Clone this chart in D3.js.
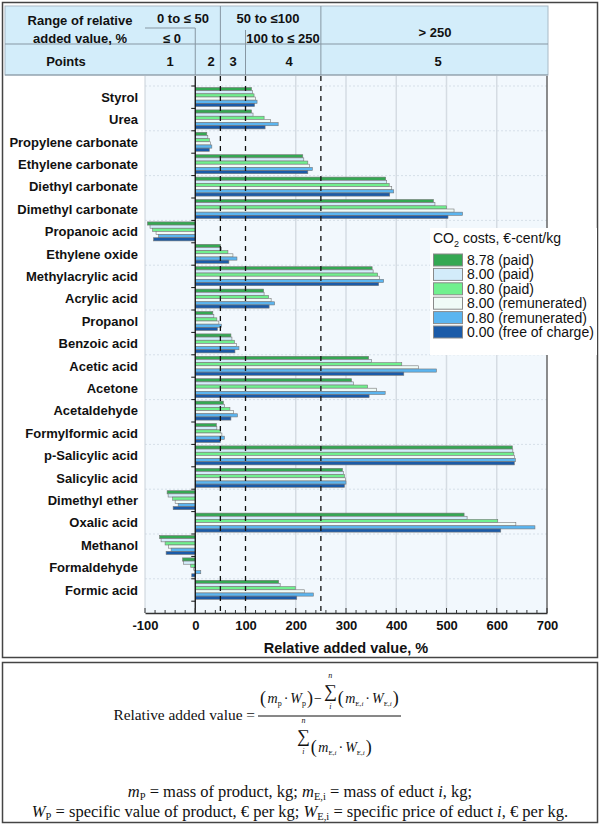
<!DOCTYPE html>
<html><head><meta charset="utf-8">
<script src="https://cdn.jsdelivr.net/npm/d3@7"></script>
<style>body{margin:0;background:#fff} svg{display:block}</style>
</head><body><svg id="c" width="600" height="828"></svg>
<script>
const categories = ["Styrol","Urea","Propylene carbonate","Ethylene carbonate","Diethyl carbonate","Dimethyl carbonate","Propanoic acid","Ethylene oxide","Methylacrylic acid","Acrylic acid","Propanol","Benzoic acid","Acetic acid","Acetone","Acetaldehyde","Formylformic acid","p-Salicylic acid","Salicylic acid","Dimethyl ether","Oxalic acid","Methanol","Formaldehyde","Formic acid"];
const seriesNames = ["8.78 (paid)","8.00 (paid)","0.80 (paid)","8.00 (remunerated)","0.80 (remunerated)","0.00 (free of charge)"];
const paid878 = [112,112,23,214,379,474,-95,50,352,136,35,71,345,311,56,42,631,293,-56,535,-71,-25,166];
const paid800 = [114,115,25,216,381,477,-90,52,354,137,37,73,351,315,58,43,632,295,-54,541,-68,-23,169];
const paid080 = [117,137,28,224,386,500,-85,65,363,146,43,78,411,343,69,50,634,297,-45,602,-60,-9,199];
const rem800  = [120,150,30,227,391,515,-78,75,367,151,47,82,444,361,76,53,635,299,-40,638,-53,-3,217];
const rem080  = [123,165,33,233,395,532,-73,83,375,158,52,87,480,378,84,58,637,300,-34,676,-48,11,235];
const free000 = [118,139,28,224,387,503,-83,67,365,147,44,79,415,346,71,50,635,297,-44,608,-58,-7,202];
const seriesValues = [paid878, paid800, paid080, rem800, rem080, free000];
const seriesColors = ["#35a853","#d3ecfa","#70f08e","#f0fbf7","#5bb5f0","#1b5ba8"];
const xTicks = [-100,0,100,200,300,400,500,600,700];
const gridValues = [200,300,400,500,600];
const thresholdValues = [50,100,250];

const svg = d3.select("#c");
const SANS = "'Liberation Sans', Arial, sans-serif";
const SERIF = "'Liberation Serif', 'Times New Roman', serif";

// panels
svg.append("rect").attr("x",2.5).attr("y",2.5).attr("width",595).attr("height",655)
  .attr("fill","#fff").attr("stroke","#444").attr("stroke-width",1.5);
svg.append("rect").attr("x",2.5).attr("y",662.5).attr("width",595).attr("height",160)
  .attr("fill","#fff").attr("stroke","#444").attr("stroke-width",1.5);

const x = d3.scaleLinear().domain([-100,700]).range([145,547]);
const y = d3.scaleBand().domain(categories).range([86, 86+23*22.4]).padding(0);
const yi = d3.scaleBand().domain(seriesNames).range([1.5,20.5]).padding(0);
const plotTop = 76, plotBot = 613;

// plot background
svg.append("rect").attr("x",x(-100)).attr("y",plotTop).attr("width",x(700)-x(-100)).attr("height",plotBot-plotTop)
  .attr("fill","#f2f8fd");

// horizontal dotted grid
const bounds = d3.range(0,24).map(k => y.range()[0] + k*y.step());
svg.append("g").selectAll("line").data(bounds.filter((d,i)=>i%2===0)).join("line")
  .attr("x1",x(-100)).attr("x2",x(700)).attr("y1",d=>d).attr("y2",d=>d)
  .attr("stroke","#d6dfe8").attr("stroke-width",1).attr("stroke-dasharray","2,2");

// vertical grid
svg.append("g").selectAll("line").data(gridValues).join("line")
  .attr("x1",d=>x(d)).attr("x2",d=>x(d)).attr("y1",plotTop).attr("y2",plotBot)
  .attr("stroke","#d5dce3").attr("stroke-width",1.5);

// bars
const gb = svg.append("g");
seriesValues.forEach((vals,si)=>{
  gb.append("g").selectAll("rect").data(vals).join("rect")
    .attr("x",d=>x(Math.min(0,d)))
    .attr("width",d=>Math.abs(x(d)-x(0)))
    .attr("y",(d,i)=>y(categories[i])+yi(seriesNames[si]))
    .attr("height",yi.bandwidth())
    .attr("fill",seriesColors[si]).attr("stroke","#777").attr("stroke-width",0.6);
});

// threshold dashed lines
svg.append("g").selectAll("line").data(thresholdValues).join("line")
  .attr("x1",d=>x(d)).attr("x2",d=>x(d)).attr("y1",plotTop).attr("y2",plotBot)
  .attr("stroke","#111").attr("stroke-width",1.3).attr("stroke-dasharray","5,5");

// zero line + ticks
svg.append("line").attr("x1",x(0)).attr("x2",x(0)).attr("y1",plotTop).attr("y2",plotBot)
  .attr("stroke","#111").attr("stroke-width",1.3);
svg.append("g").selectAll("line").data(bounds).join("line")
  .attr("x1",x(0)-4).attr("x2",x(0)).attr("y1",d=>d).attr("y2",d=>d)
  .attr("stroke","#111").attr("stroke-width",1);

// plot frame right/left
svg.append("line").attr("x1",x(700)).attr("x2",x(700)).attr("y1",plotTop).attr("y2",plotBot)
  .attr("stroke","#666").attr("stroke-width",1.5);
svg.append("line").attr("x1",x(-100)).attr("x2",x(-100)).attr("y1",plotTop).attr("y2",plotBot)
  .attr("stroke","#c8d0d8").attr("stroke-width",1);

// category labels
svg.append("g").selectAll("text").data(categories).join("text")
  .attr("x",138).attr("y",d=>y(d)+y.bandwidth()/2+4.5)
  .attr("text-anchor","end").attr("font-family",SANS).attr("font-weight","bold").attr("font-size",13)
  .attr("fill","#111").text(d=>d);

// x axis
const xAxis = d3.axisBottom(x).tickValues(xTicks).tickSize(0).tickPadding(8).tickFormat(d=>String(d));
const ga = svg.append("g").attr("transform",`translate(0,${plotBot})`).call(xAxis);
ga.select(".domain").attr("stroke","#333").attr("stroke-width",1.5);
ga.selectAll("text").attr("font-family",SANS).attr("font-weight","bold").attr("font-size",13).attr("fill","#111");
const minor = d3.range(-100,701,20);
svg.append("g").selectAll("line").data(minor).join("line")
  .attr("x1",d=>x(d)).attr("x2",d=>x(d)).attr("y1",d=>plotBot-(d%100===0?5:3)).attr("y2",plotBot)
  .attr("stroke","#333").attr("stroke-width",1);
svg.append("text").attr("x",346).attr("y",653).attr("text-anchor","middle")
  .attr("font-family",SANS).attr("font-weight","bold").attr("font-size",14.5).attr("fill","#111")
  .text("Relative added value, %");

// header
const hg = svg.append("g");
hg.append("rect").attr("x",5).attr("y",6).attr("width",543).attr("height",69)
  .attr("fill","#d3edfa").attr("stroke","#a9bac6").attr("stroke-width",1);
const hl = (x1,y1,x2,y2)=>hg.append("line").attr("x1",x1).attr("y1",y1).attr("x2",x2).attr("y2",y2)
  .attr("stroke","#8797a3").attr("stroke-width",1);
hl(5,44,548,44);
hl(145,28,x(0),28);
hl(x(0),28,x(0),75);
hl(x(50),6,x(50),75);
hl(x(100),30,x(100),75);
hl(x(250),6,x(250),75);
hl(5,75,548,75);
const ht = (t,xx,yy)=>hg.append("text").attr("x",xx).attr("y",yy).attr("text-anchor","middle")
  .attr("font-family",SANS).attr("font-weight","bold").attr("font-size",13).attr("fill","#111").text(t);
ht("Range of relative",80,24.5);
ht("added value, %",80,42.5);
ht("Points",66,66);
ht("0 to ≤ 50",183,23);
ht("≤ 0",172,42.5);
ht("50 to ≤100",268,23);
ht("100 to ≤ 250",283,42.5);
ht("> 250",435,37);
[["1",170],["2",211],["3",233],["4",289],["5",438]].forEach(p=>ht(p[0],p[1],66));

// legend
const lg = svg.append("g");
lg.append("rect").attr("x",430).attr("y",228).attr("width",167).attr("height",127).attr("fill","#fff");
const lt = lg.append("text").attr("x",433).attr("y",243).attr("font-family",SANS).attr("font-size",14).attr("fill","#111");
lt.append("tspan").text("CO");
lt.append("tspan").attr("font-size",9).attr("dy",4).text("2");
lt.append("tspan").attr("dy",-4).text(" costs, €-cent/kg");
seriesNames.forEach((s,i)=>{
  const yy = 254 + i*14.4;
  lg.append("rect").attr("x",433.5).attr("y",yy).attr("width",29).attr("height",12)
    .attr("fill",seriesColors[i]).attr("stroke","#8a8a8a").attr("stroke-width",1);
  lg.append("text").attr("x",467).attr("y",yy+11).attr("font-family",SANS).attr("font-size",14)
    .attr("fill","#111").text(s);
});

// formula
const fg = svg.append("g").attr("font-family",SERIF).attr("fill","#111");
function seq(x0, yb, pieces){
  let cx = x0;
  pieces.forEach(p=>{
    const t = fg.append("text").attr("x",cx).attr("y",yb+(p.dy||0)).attr("font-size",p.size||14)
      .attr("font-style",p.it?"italic":"normal").text(p.t);
    cx += t.node().getComputedTextLength() + (p.gap||0);
  });
  return cx;
}
function sigma(x0, yb, above, below){
  const t = fg.append("text").attr("x",x0).attr("y",yb).attr("font-size",18).text("∑");
  const w = t.node().getComputedTextLength();
  fg.append("text").attr("x",x0+w/2).attr("y",yb-19).attr("font-size",8).attr("font-style","italic").attr("text-anchor","middle").text(above);
  fg.append("text").attr("x",x0+w/2).attr("y",yb+12).attr("font-size",8).attr("font-style","italic").attr("text-anchor","middle").text(below);
  return x0+w+1;
}
fg.append("text").attr("x",255).attr("y",720).attr("text-anchor","end").attr("font-size",15.4).text("Relative added value =");
fg.append("line").attr("x1",258).attr("x2",401).attr("y1",716).attr("y2",716).attr("stroke","#111").attr("stroke-width",1);
const term = [
  {t:"(",size:18,dy:1,gap:1.5},{t:"m",it:true},{t:"E,",size:7,dy:3},{t:"i",size:7,dy:3,it:true,gap:2},{t:"·",gap:2},{t:"W",it:true},{t:"E,",size:7,dy:3},{t:"i",size:7,dy:3,it:true,gap:1},{t:")",size:18,dy:1}
];
// numerator
let nx = seq(260, 703, [
  {t:"(",size:18,dy:1,gap:1.5},{t:"m",it:true},{t:"p",size:8,dy:3,gap:2},{t:"·",gap:2},{t:"W",it:true},{t:"p",size:8,dy:3,gap:1},{t:")",size:18,dy:1,gap:1},{t:"−",gap:2}
]);
nx = sigma(nx, 697, "n", "i");
seq(nx, 703, term);
// denominator
let dx = sigma(297, 742, "n", "i");
seq(dx, 752, term);
// definitions
function defLine(yb, parts){
  const t = fg.append("text").attr("x",300).attr("y",yb).attr("text-anchor","middle").attr("font-size",16.5);
  let shifted = 0;
  parts.forEach(p=>{
    const ts = t.append("tspan").text(p.t);
    if(p.it) ts.attr("font-style","italic");
    const target = p.sub?3:0;
    if(target!==shifted){ ts.attr("dy",target-shifted); shifted=target; }
    if(p.sub) ts.attr("font-size",10.5);
  });
}
defLine(797,[{t:"m",it:true},{t:"P",sub:true},{t:" = mass of product, kg; "},{t:"m",it:true},{t:"E,i",sub:true},{t:" = mass of educt "},{t:"i",it:true},{t:", kg;"}]);
defLine(817,[{t:"W",it:true},{t:"P",sub:true},{t:" = specific value of product, € per kg; "},{t:"W",it:true},{t:"E,i",sub:true},{t:" = specific price of educt "},{t:"i",it:true},{t:", € per kg."}]);
</script></body></html>
